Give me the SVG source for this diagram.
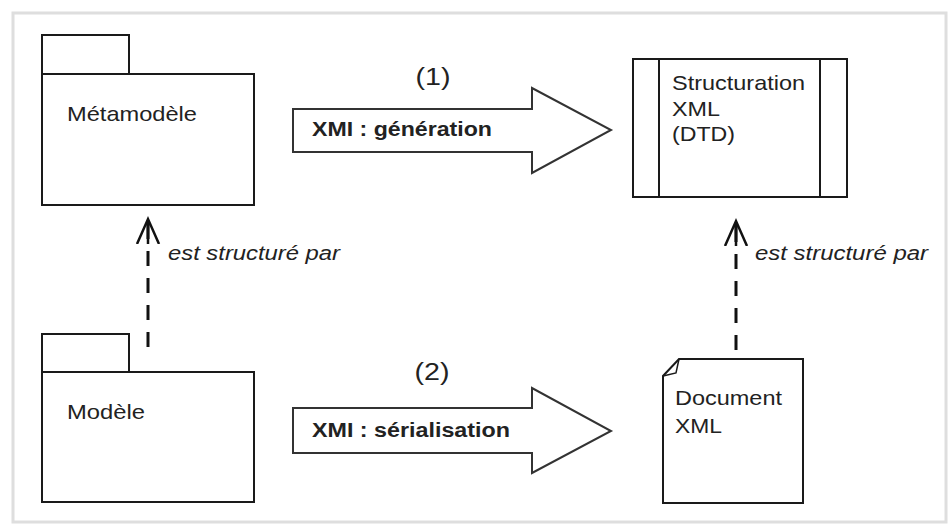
<svg xmlns="http://www.w3.org/2000/svg" width="949" height="527" viewBox="0 0 949 527">
<style>
.box{fill:#fff;stroke:#1a1a1a;stroke-width:2}
.big{fill:#fff;stroke:#333;stroke-width:2;stroke-linejoin:miter}
.t{font-family:"Liberation Sans",Arial,sans-serif;font-size:21px;fill:#222}
.b{font-family:"Liberation Sans",Arial,sans-serif;font-size:19.5px;font-weight:bold;fill:#222}
.i{font-family:"Liberation Sans",Arial,sans-serif;font-size:20px;font-style:italic;fill:#222}
.n{font-family:"Liberation Sans",Arial,sans-serif;font-size:23px;fill:#222}
.dep{fill:none;stroke:#111;stroke-width:3;stroke-dasharray:15 12}
</style>
<defs>
<marker id="open" viewBox="0 0 30 30" refX="25" refY="15" markerWidth="30" markerHeight="30" markerUnits="userSpaceOnUse" orient="auto">
<path d="M0,4 L25,15 L0,26 M25,15 L0,15" fill="none" stroke="#111" stroke-width="2.5"/>
</marker>
</defs>
<rect x="0" y="0" width="949" height="527" fill="#fff"/>
<rect x="13" y="13" width="933" height="509" fill="#fff" stroke="#dedede" stroke-width="3"/>

<g id="metamodele">
<rect class="box" x="42" y="35" width="87" height="39"/>
<rect class="box" x="42" y="74" width="212" height="131"/>
<text class="t" x="67" y="121" textLength="130" lengthAdjust="spacingAndGlyphs">Métamodèle</text>
</g>

<g id="modele">
<rect class="box" x="42" y="334" width="87" height="38"/>
<rect class="box" x="42" y="372" width="212" height="130"/>
<text class="t" x="67" y="419" textLength="78" lengthAdjust="spacingAndGlyphs">Modèle</text>
</g>

<g id="structuration">
<rect class="box" x="633" y="59" width="214" height="138"/>
<line x1="659" y1="59" x2="659" y2="197" stroke="#1a1a1a" stroke-width="2"/>
<line x1="820" y1="59" x2="820" y2="197" stroke="#1a1a1a" stroke-width="2"/>
<text class="t" x="672" y="90" textLength="133" lengthAdjust="spacingAndGlyphs">Structuration</text>
<text class="t" x="672" y="116" textLength="48" lengthAdjust="spacingAndGlyphs">XML</text>
<text class="t" x="672" y="141" textLength="63" lengthAdjust="spacingAndGlyphs">(DTD)</text>
</g>

<g id="document">
<path class="box" d="M679,359 L803,359 L803,503 L663,503 L663,376 Z"/>
<path d="M679,359 L676,373 L663,376" fill="none" stroke="#1a1a1a" stroke-width="1.5"/>
<text class="t" x="675" y="405" textLength="107" lengthAdjust="spacingAndGlyphs">Document</text>
<text class="t" x="675" y="433" textLength="47" lengthAdjust="spacingAndGlyphs">XML</text>
</g>

<g id="connectors">
<g id="generation">
<path class="big" d="M293,109 L532,109 L532,88 L611,130 L532,173 L532,152 L293,152 Z"/>
<text class="n" x="433" y="85" text-anchor="middle" textLength="35" lengthAdjust="spacingAndGlyphs">(1)</text>
<text class="b" x="312" y="136" textLength="180" lengthAdjust="spacingAndGlyphs">XMI : génération</text>
</g>
<g id="serialisation">
<path class="big" d="M293,408 L532,408 L532,388 L611,431 L532,473 L532,453 L293,453 Z"/>
<text class="n" x="432" y="380" text-anchor="middle" textLength="35" lengthAdjust="spacingAndGlyphs">(2)</text>
<text class="b" x="312" y="437" textLength="198" lengthAdjust="spacingAndGlyphs">XMI : sérialisation</text>
</g>
<g id="dep-left">
<line class="dep" x1="148" y1="347" x2="148" y2="219" marker-end="url(#open)"/>
<text class="i" x="168" y="260" textLength="172" lengthAdjust="spacingAndGlyphs">est structuré par</text>
</g>
<g id="dep-right">
<line class="dep" x1="736" y1="350" x2="736" y2="221" marker-end="url(#open)"/>
<text class="i" x="755" y="260" textLength="173" lengthAdjust="spacingAndGlyphs">est structuré par</text>
</g>
</g>
</svg>
